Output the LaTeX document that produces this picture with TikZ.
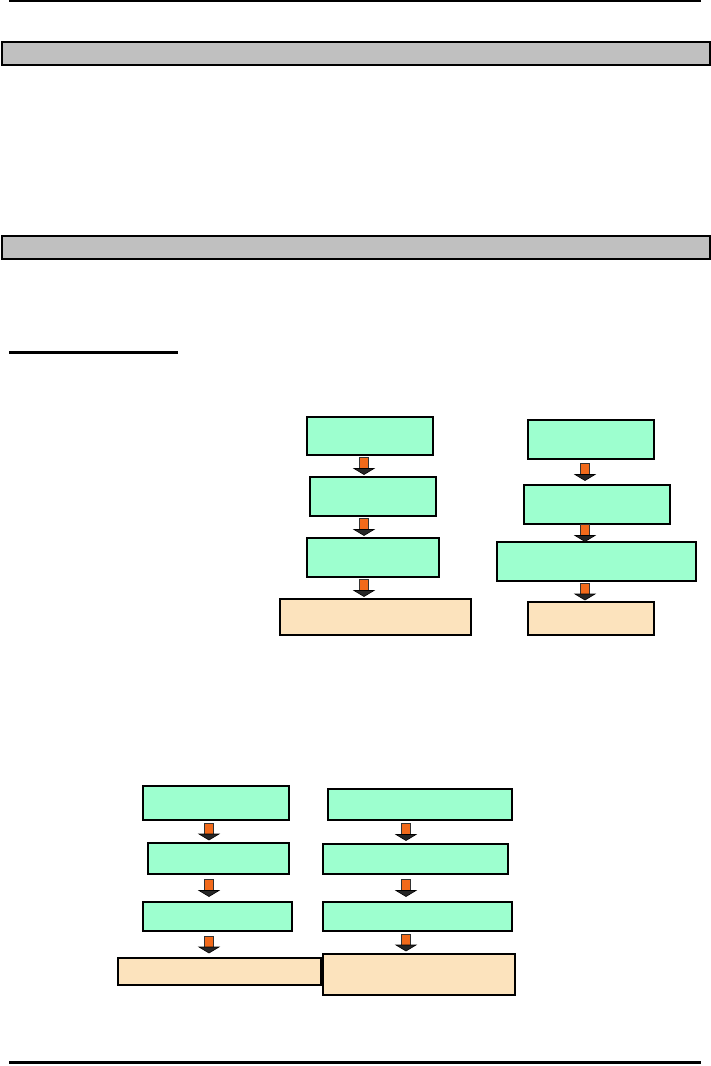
\documentclass[tikz,border=0pt]{standalone}
\usepackage{xcolor}
\usepackage{tikz}
\usetikzlibrary{positioning,calc}

\definecolor{mintfill}{HTML}{9DFFCF}
\definecolor{peachfill}{HTML}{FCE3BD}
\definecolor{barfill}{HTML}{C0C0C0}
\definecolor{arfill}{HTML}{F26A1B}

% block arrow centred in the gap between two boxes, at x = #3
\newcommand{\dnar}[3]{%
  \coordinate (ax) at (#3,0);
  \coordinate (mid) at ($(#1.south)!0.5!(#2.north)$);
  \coordinate (m) at (ax |- mid);
  \filldraw[fill=arfill, draw=black!80, line width=0.8pt]
    ([shift={(-4.5pt,8.5pt)}]m) rectangle ([shift={(4.5pt,-3pt)}]m);
  \filldraw[fill=black!85, draw=black, line width=0.6pt]
    ([shift={(-10pt,-2.5pt)}]m) -- ([shift={(10pt,-2.5pt)}]m)
    -- ([shift={(0pt,-8.5pt)}]m) -- cycle;
}

\begin{document}
\begin{tikzpicture}[
  x=1pt, y=-1pt,
  box/.style   = {draw, line width=2pt, inner sep=0pt, outer sep=0pt},
  mint/.style  = {box, fill=mintfill},
  peach/.style = {box, fill=peachfill},
  bar/.style   = {draw, line width=2pt, fill=barfill, inner sep=0pt,
                  minimum width=708, minimum height=23, anchor=north west}
]
\useasboundingbox (0,0) rectangle (710,1066);

% rules and section bars
\draw[line width=2pt] (9,1) -- (701,1);
\node[bar] (bar1) at (1,41) {};
\node[bar] (bar2) at (1,235) {};
\draw[line width=3pt] (9,352) -- (178,352);
\draw[line width=3pt] (9,1062.5) -- (701,1062.5);

% upper left column
\node[mint, minimum width=126, minimum height=38] (a1) at (370,436) {};
\node[mint, minimum width=126, minimum height=39, below=22pt of a1, xshift=3pt] (a2) {};
\node[mint, minimum width=132, minimum height=39, below=22pt of a2] (a3) {};
\node[peach, minimum width=191, minimum height=36, below=22pt of a3, xshift=2.5pt] (a4) {};

\dnar{a1}{a2}{364}
\dnar{a2}{a3}{364}
\dnar{a3}{a4}{364}

% upper right column
\node[mint, minimum width=126, minimum height=39] (b1) at (591,439.5) {};
\node[mint, minimum width=146, minimum height=39, below=26pt of b1, xshift=6pt] (b2) {};
\node[mint, minimum width=199, minimum height=39, below=18pt of b2, xshift=-0.5pt] (b3) {};
\node[peach, minimum width=126, minimum height=33, below=21pt of b3, xshift=-5.5pt] (b4) {};

\dnar{b1}{b2}{585}
\dnar{b2}{b3}{585}
\dnar{b3}{b4}{585}

% lower left column
\node[mint, minimum width=146, minimum height=34] (c1) at (216,803) {};
\node[mint, minimum width=141, minimum height=31, below=23pt of c1, xshift=2.5pt] (c2) {};
\node[mint, minimum width=149, minimum height=29, below=28pt of c2, xshift=-1pt] (c3) {};
\node[peach, minimum width=203, minimum height=27, below=27pt of c3, xshift=2pt] (c4) {};

\dnar{c1}{c2}{209}
\dnar{c2}{c3}{209}
\dnar{c3}{c4}{209}

% lower right column
\node[mint, minimum width=184, minimum height=31] (d1) at (420,804.5) {};
\node[mint, minimum width=185, minimum height=30, below=24pt of d1, xshift=-4.5pt] (d2) {};
\node[mint, minimum width=189, minimum height=29, below=28pt of d2, xshift=2pt] (d3) {};
\node[peach, minimum width=192, minimum height=41, below=23pt of d3, xshift=1.5pt] (d4) {};

\dnar{d1}{d2}{406}
\dnar{d2}{d3}{406}
\dnar{d3}{d4}{406}

\end{tikzpicture}
\end{document}
